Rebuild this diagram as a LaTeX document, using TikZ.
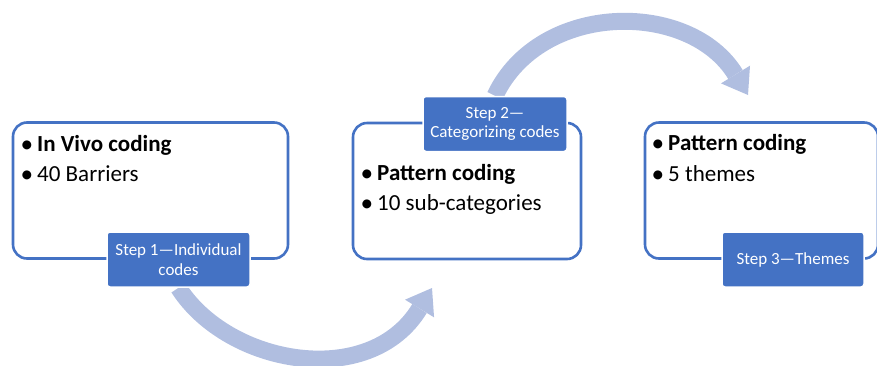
\documentclass[tikz,border=0pt]{standalone}
\usepackage{fontspec}
\setmainfont{Carlito}
\usepackage{tikz}
\usetikzlibrary{arrows.meta,positioning,backgrounds}
\definecolor{stepBlue}{RGB}{68,114,196}
\definecolor{flowBlue}{RGB}{176,190,224}
\newcommand{\bul}{\makebox[14pt][l]{\hspace{-2.5pt}\raisebox{-1pt}{\scalebox{1.1}{\textbullet}}}}

\begin{document}
\begin{tikzpicture}[x=1pt,y=-1pt,
          box/.style={rectangle,rounded corners=14pt,draw=stepBlue,
                      line width=2.6pt,minimum height=136pt,inner sep=0pt},
          lbl/.style={rectangle,rounded corners=3pt,fill=stepBlue,draw=white,
                      line width=1.5pt,text=white,minimum width=143pt,
                      minimum height=55pt,align=center,inner sep=0pt,
                      font=\fontsize{17}{19.5}\selectfont},
          item/.style={anchor=base west,inner sep=0pt,
                       font=\fontsize{23}{28}\selectfont},
          flow/.style={draw=flowBlue,line width=17pt,
                       -{Triangle[length=24pt,width=34pt,line width=0pt]}}]
          \useasboundingbox (0,0) rectangle (877,365);
          \clip (0,0) rectangle (877,365);
          \node[box,minimum width=275pt] (b1) at (150.5,190.5) {};
          \node[box,minimum width=228pt] (b2) at (467,191) {};
          \node[box,minimum width=233pt] (b3) at (761.5,190.5) {};
          \node[item] (t1a) at (23,151) {\bul\textbf{In Vivo coding}};
          \node[item] (t1b) at (23,181) {\bul 40 Barriers};
          \node[item] (t2a) at (363,180) {\bul\textbf{Pattern coding}};
          \node[item] (t2b) at (363,210) {\bul 10 sub-categories};
          \node[item] (t3a) at (654,150) {\bul\textbf{Pattern coding}};
          \node[item] (t3b) at (654,181) {\bul 5 themes};
          \node[lbl] (s1) at (178.5,259.5) {Step 1---Individual\\codes};
          \node[lbl,minimum width=144pt] (s2) at (495,124) {Step 2---\\Categorizing codes};
          \node[lbl,minimum width=142pt] (s3) at (793,259.5) {Step 3---Themes};
          \coordinate (e1) at (432,288);
          \coordinate (e2) at (748,95);
          \begin{scope}[on background layer]
            \draw[flow] (s1.south) .. controls +(50,78) and +(-62,102) .. (e1);
            \draw[flow] (s2.north) .. controls +(45,-95) and +(-58,-95) .. (e2);
          \end{scope}
        \end{tikzpicture}
\end{document}
